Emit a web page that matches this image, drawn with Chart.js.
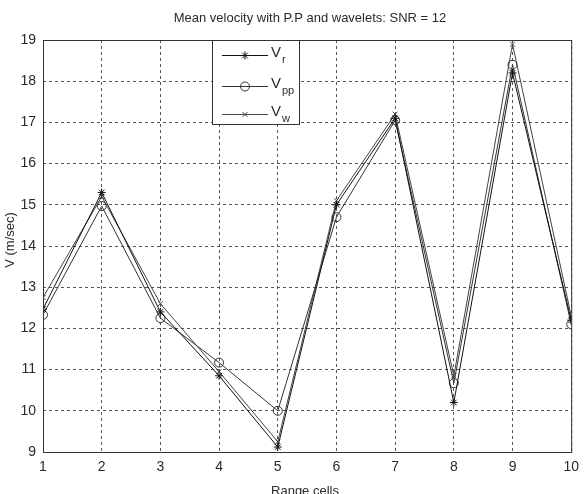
<!DOCTYPE html>
<html>
<head>
<meta charset="utf-8">
<script src="https://cdn.jsdelivr.net/npm/chart.js@4.4.1/dist/chart.umd.min.js"></script>
<style>
  html, body { margin: 0; padding: 0; background: #fff; }
  #wrap { width: 586px; height: 494px; position: relative; }
</style>
</head>
<body>
<div id="wrap"><canvas id="velChart"></canvas></div>
<script>
// Daten
const rangeCells = [1, 2, 3, 4, 5, 6, 7, 8, 9, 10];
const vR  = [12.47, 15.3, 12.4, 10.85, 9.12, 15.0, 17.1, 10.2, 18.2, 12.2];
const vPP = [12.33, 14.97, 12.25, 11.17, 10.0, 14.7, 17.05, 10.67, 18.4, 12.1];
const vW  = [12.75, 15.2, 12.6, 10.95, 9.25, 15.1, 17.2, 10.85, 18.9, 12.3];
const yTicks = [9, 10, 11, 12, 13, 14, 15, 16, 17, 18, 19];

const seriesNames = ["r", "pp", "w"];
const seriesStyles = ["star", "circle", "crossRot"];

const FONT = "'Liberation Sans', Arial, sans-serif";
const TEXT = "#2a2a2a";

function toPoints(values) {
  return rangeCells.map((x, i) => ({ x: x, y: values[i] }));
}

// Titel, Achsentitel, Rahmen und Legende zeichnen
const decorPlugin = {
  id: "decor",
  afterDraw(chart) {
    const ctx = chart.ctx;
    const a = chart.chartArea;
    ctx.save();

    // Rahmen um die Zeichenfläche
    ctx.strokeStyle = "#333";
    ctx.lineWidth = 1;
    ctx.setLineDash([]);
    ctx.strokeRect(a.left + 0.5, a.top + 0.5, a.right - a.left, a.bottom - a.top);

    ctx.fillStyle = TEXT;
    ctx.font = "13px " + FONT;
    ctx.textAlign = "center";
    ctx.textBaseline = "middle";
    ctx.fillText("Mean velocity with P.P and wavelets: SNR = 12", 310, 18);
    ctx.fillText("Range cells", 305, 491);

    ctx.save();
    ctx.translate(10, 240);
    ctx.rotate(-Math.PI / 2);
    ctx.fillText("V (m/sec)", 0, 0);
    ctx.restore();

    // Legende
    const box = { x: 212.5, y: a.top + 0.5, w: 87, h: 84 };
    ctx.fillStyle = "#fff";
    ctx.fillRect(box.x, box.y, box.w, box.h);
    ctx.strokeStyle = "#333";
    ctx.strokeRect(box.x, box.y, box.w, box.h);

    const rows = [55, 86, 114];
    chart.data.datasets.forEach((ds, i) => {
      const y = rows[i];
      ctx.strokeStyle = ds.borderColor;
      ctx.lineWidth = 1;
      ctx.beginPath();
      ctx.moveTo(222, y + 0.5);
      ctx.lineTo(268, y + 0.5);
      ctx.stroke();
      ctx.fillStyle = "rgba(0,0,0,0)";
      ctx.strokeStyle = ds.borderColor;
      Chart.helpers.drawPoint(ctx, {
        pointStyle: ds.pointStyle,
        radius: ds.pointRadius,
        borderWidth: 1,
        rotation: 0
      }, 245, y + 0.5);

      ctx.fillStyle = TEXT;
      ctx.textAlign = "left";
      ctx.textBaseline = "middle";
      ctx.font = "15px " + FONT;
      ctx.fillText("V", 271, y - 2);
      ctx.font = "11px " + FONT;
      ctx.fillText(seriesNames[i], 282, y + 5);
    });

    ctx.restore();
  }
};

const datasets = [vR, vPP, vW].map((vals, i) => ({
  label: "V" + seriesNames[i],
  data: toPoints(vals),
  borderColor: ["#111", "#333", "#444"][i],
  backgroundColor: "rgba(0,0,0,0)",
  borderWidth: 1,
  pointStyle: seriesStyles[i],
  pointRadius: [4, 4.5, 3.5][i],
  pointBorderColor: ["#111", "#333", "#444"][i],
  pointBackgroundColor: "rgba(0,0,0,0)",
  pointBorderWidth: 1,
  tension: 0
}));

// eslint-disable-next-line no-undef
new Chart(document.getElementById("velChart"), {
  type: "line",
  data: { datasets: datasets },
  options: {
    responsive: true,
    maintainAspectRatio: false,
    animation: false,
    layout: { padding: { left: 0, right: 12, top: 40, bottom: 0 } },
    plugins: {
      legend: { display: false },
      tooltip: { enabled: false }
    },
    scales: {
      x: {
        type: "linear",
        min: 1,
        max: 10,
        afterBuildTicks: scale => {
          scale.ticks = rangeCells.map(v => ({ value: v }));
        },
        afterFit: scale => { scale.height = 42; },
        grid: { color: "#555", lineWidth: 1, drawTicks: false },
        border: { display: false, dash: [3, 3] },
        ticks: { color: TEXT, font: { family: FONT, size: 14 }, padding: 7, maxRotation: 0 }
      },
      y: {
        type: "linear",
        min: 9,
        max: 19,
        afterBuildTicks: scale => {
          scale.ticks = yTicks.map(v => ({ value: v }));
        },
        afterFit: scale => { scale.width = 43; },
        grid: { color: "#555", lineWidth: 1, drawTicks: false },
        border: { display: false, dash: [3, 3] },
        ticks: { color: TEXT, font: { family: FONT, size: 14 }, padding: 7 }
      }
    }
  },
  plugins: [decorPlugin]
});
</script>
</body>
</html>
